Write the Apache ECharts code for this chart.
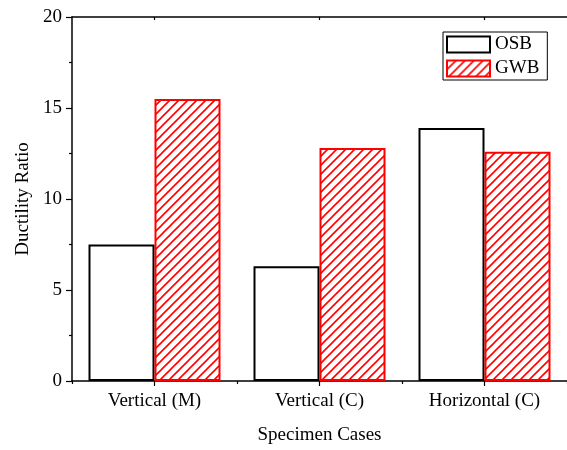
<!DOCTYPE html>
<html>
<head>
<meta charset="utf-8">
<script src="https://cdn.jsdelivr.net/npm/echarts@6/dist/echarts.min.js"></script>
<style>
  html, body { margin: 0; padding: 0; background: #fff; }
  #chart { width: 567px; height: 450px; }
</style>
</head>
<body>
<div id="chart"></div>
<script>
// Ductility ratio per specimen case
const categories = ['Vertical (M)', 'Vertical (C)', 'Horizontal (C)'];
const osbValues = [7.5, 6.3, 13.9];
const gwbValues = [15.5, 12.8, 12.6];
const yTicks = [0, 5, 10, 15, 20];

const FONT = '"Liberation Serif", "Times New Roman", serif';

// Diagonal red hatch tile for the GWB bars
function hatchTile(size, color, width) {
  const c = document.createElement('canvas');
  c.width = size; c.height = size;
  const g = c.getContext('2d');
  g.strokeStyle = color;
  g.lineWidth = width;
  g.beginPath();
  g.moveTo(-1, size + 1); g.lineTo(size + 1, -1);
  g.moveTo(-2, 2); g.lineTo(2, -2);
  g.moveTo(size - 2, size + 2); g.lineTo(size + 2, size - 2);
  g.stroke();
  return c;
}
const hatch = hatchTile(9, '#ff0000', 1.6);

const chart = echarts.init(document.getElementById('chart'), null, { renderer: 'canvas' });

const axisLineStyle = { color: '#000', width: 1.5 };

chart.setOption({
  animation: false,
  backgroundColor: '#fff',
  grid: { left: 72, top: 17, width: 497, height: 364 },
  legend: {
    orient: 'vertical',
    left: 443,
    top: 32,
    padding: [3, 8, 2, 3],
    itemGap: 5,
    itemWidth: 43,
    itemHeight: 16,
    borderColor: '#000',
    borderWidth: 1,
    backgroundColor: '#fff',
    textStyle: { fontFamily: FONT, fontSize: 19, color: '#000', padding: [0, 0, 0, 0] },
    data: [
      { name: 'OSB', icon: 'rect' },
      { name: 'GWB', icon: 'rect' }
    ]
  },
  xAxis: [
    {
      type: 'category',
      data: categories,
      position: 'bottom',
      axisLine: { lineStyle: axisLineStyle },
      axisTick: { show: true, inside: false, length: 3, lineStyle: { color: '#000', width: 1.2 } },
      axisLabel: { fontFamily: FONT, fontSize: 19, color: '#000', margin: 11 },
      name: 'Specimen Cases',
      nameLocation: 'middle',
      nameGap: 45,
      nameTextStyle: { fontFamily: FONT, fontSize: 19, color: '#000' },
      splitLine: { show: false }
    },
    {
      type: 'category',
      data: categories,
      position: 'bottom',
      axisLine: { show: false },
      axisTick: { show: true, alignWithLabel: true, inside: false, length: 5, lineStyle: { color: '#000', width: 1.2 } },
      axisLabel: { show: false },
      splitLine: { show: false }
    },
    {
      type: 'category',
      data: categories,
      position: 'top',
      axisLine: { lineStyle: axisLineStyle },
      axisTick: { show: true, alignWithLabel: true, inside: true, length: 3, lineStyle: { color: '#000', width: 1.2 } },
      axisLabel: { show: false },
      splitLine: { show: false }
    }
  ],
  yAxis: {
    type: 'value',
    min: yTicks[0],
    max: yTicks[yTicks.length - 1],
    interval: 5,
    axisLine: { show: true, lineStyle: axisLineStyle },
    axisTick: { show: true, inside: false, length: 6, lineStyle: { color: '#000', width: 1.2 } },
    minorTick: { show: true, splitNumber: 2, length: 3, lineStyle: { color: '#000', width: 1.2 } },
    axisLabel: { fontFamily: FONT, fontSize: 19, color: '#000', margin: 10 },
    splitLine: { show: false },
    name: 'Ductility Ratio',
    nameLocation: 'middle',
    nameRotate: 90,
    nameGap: 39,
    nameTextStyle: { fontFamily: FONT, fontSize: 19, color: '#000' }
  },
  series: [
    {
      name: 'OSB',
      type: 'bar',
      xAxisIndex: 0,
      data: osbValues,
      barGap: '0%',
      barCategoryGap: '20%',
      itemStyle: { color: '#ffffff', borderColor: '#000', borderWidth: 2 }
    },
    {
      name: 'GWB',
      type: 'bar',
      xAxisIndex: 0,
      data: gwbValues,
      barGap: '0%',
      barCategoryGap: '20%',
      itemStyle: { color: { image: hatch, repeat: 'repeat' }, borderColor: '#ff0000', borderWidth: 2 }
    }
  ]
});
</script>
</body>
</html>
